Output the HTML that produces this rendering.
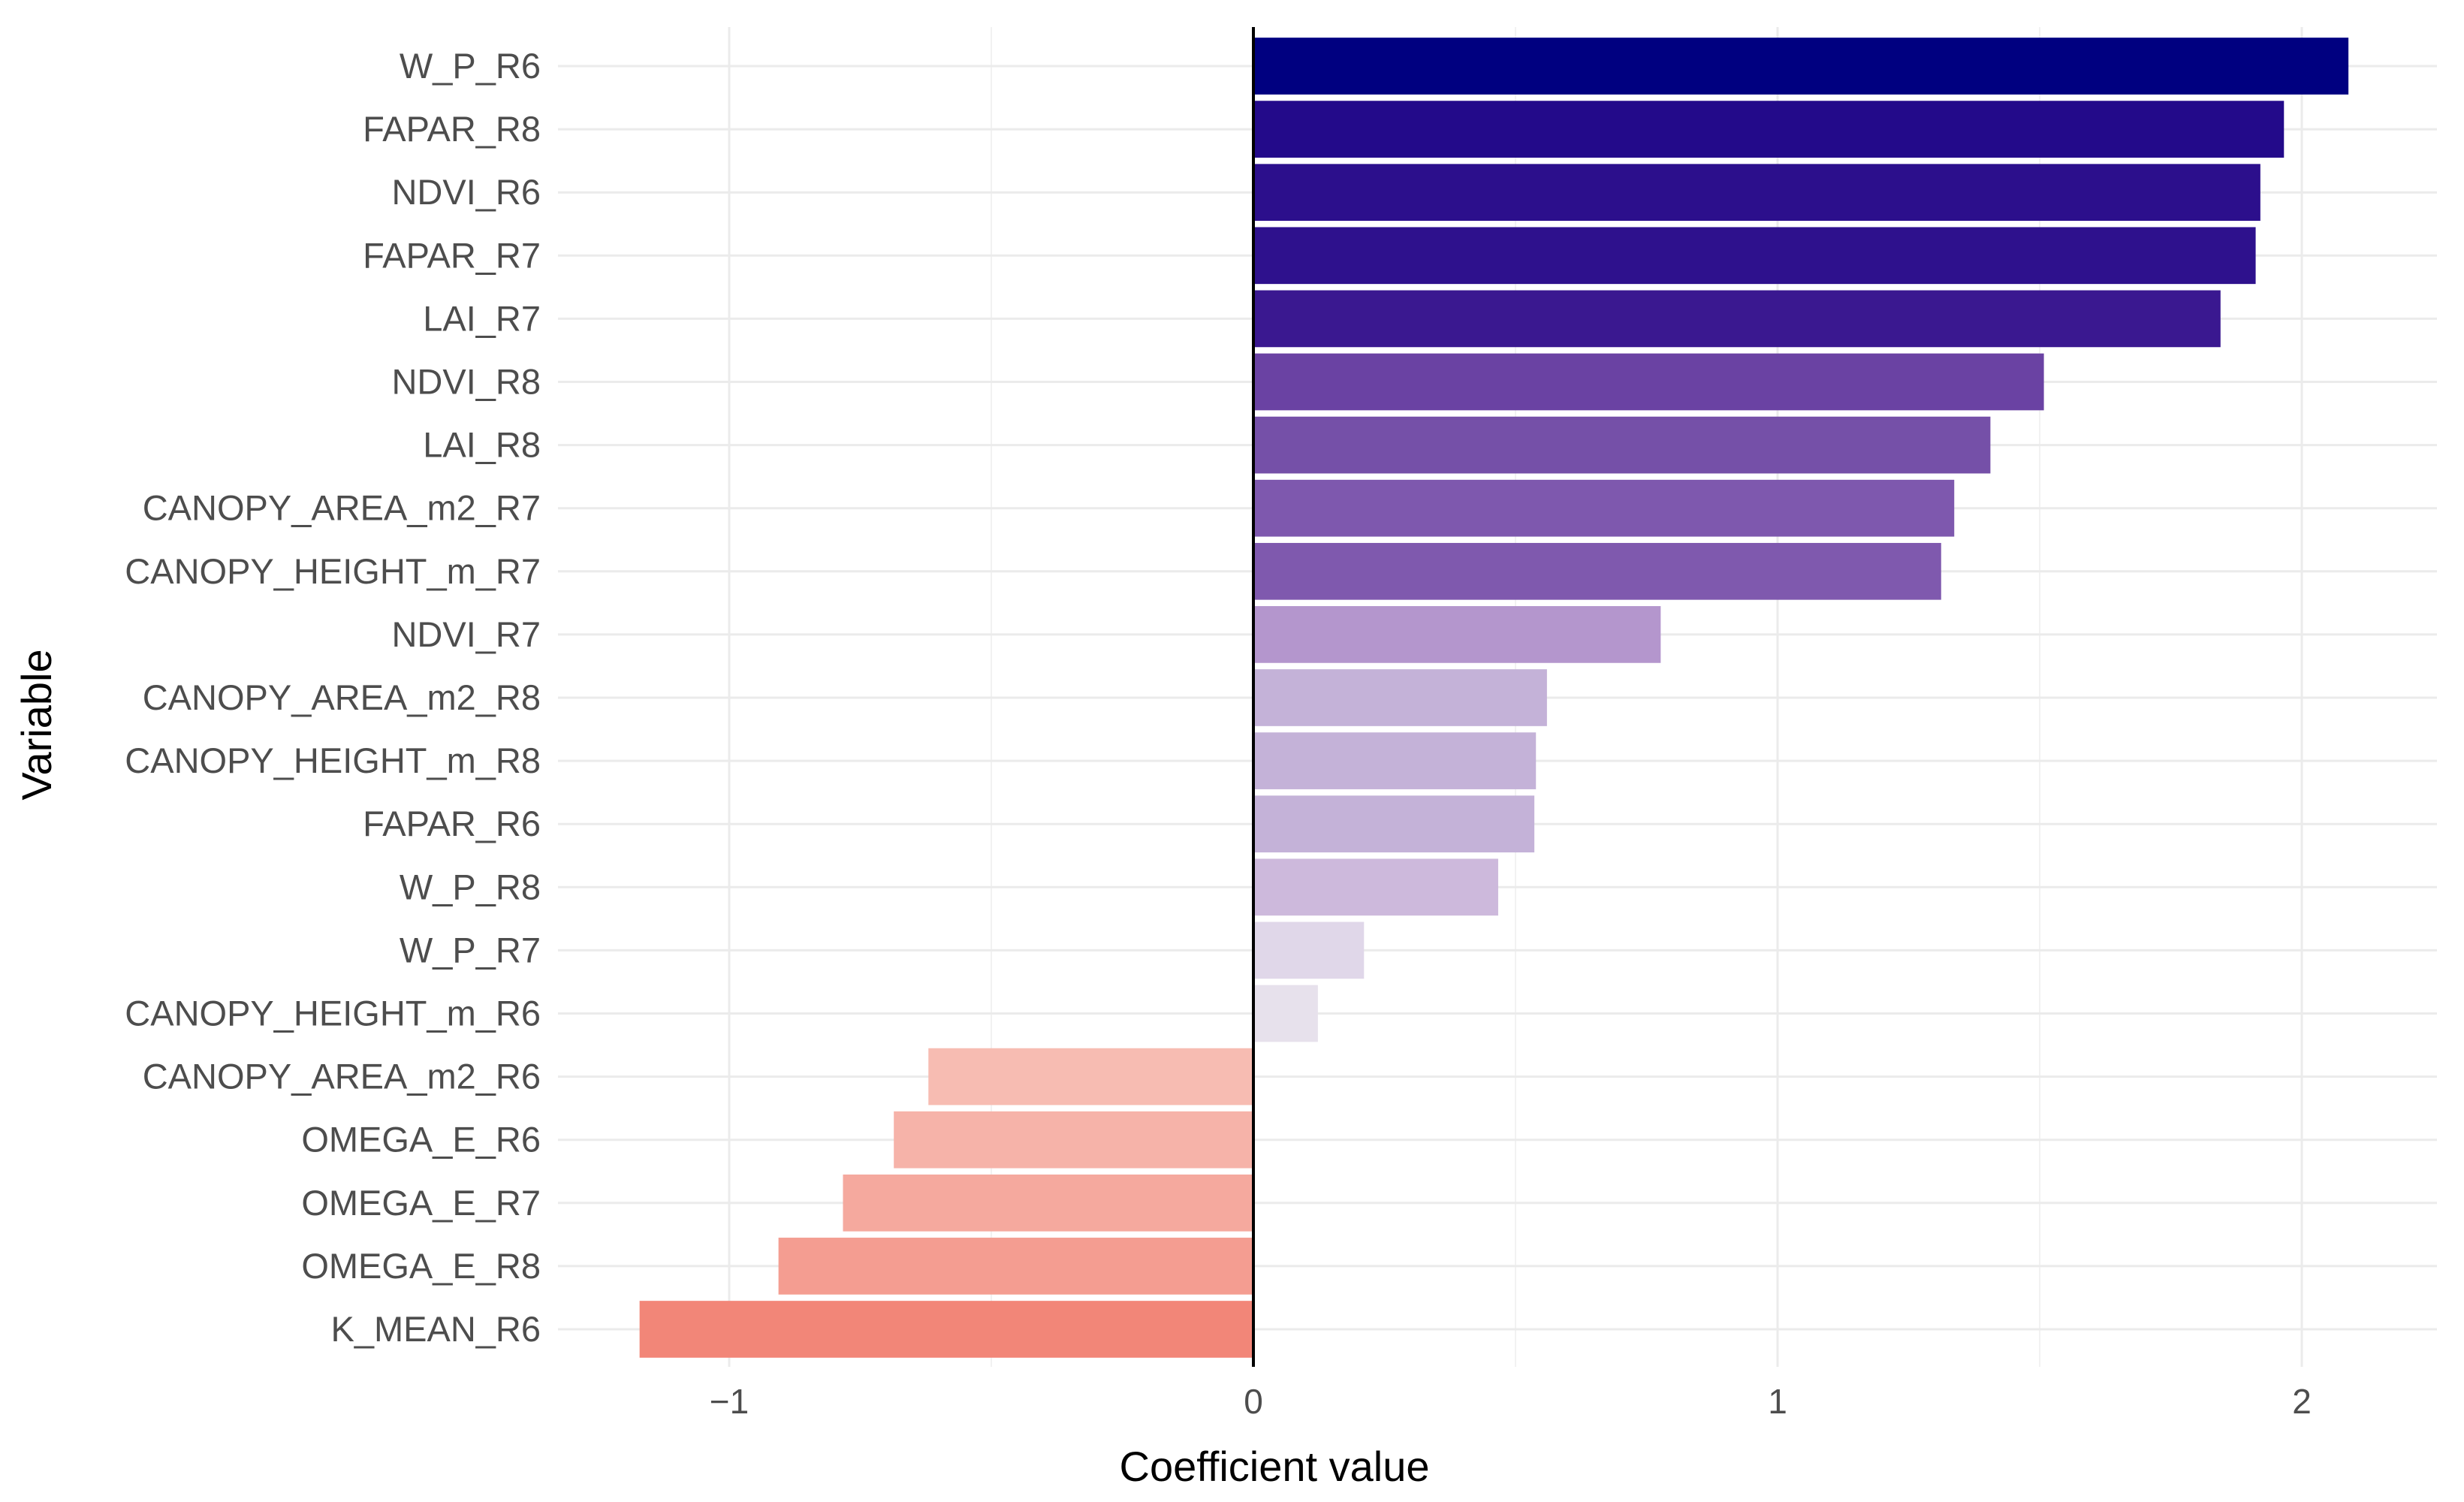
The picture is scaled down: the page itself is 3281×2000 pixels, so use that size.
<!DOCTYPE html>
<html><head><meta charset="utf-8"><style>body{margin:0;background:#fff}svg{display:block}</style></head>
<body>
<svg id="chart" width="3281" height="2000" xmlns="http://www.w3.org/2000/svg" font-family="Liberation Sans, sans-serif">
<g id="grid"></g>
<g id="bars"></g>
<g id="ylabels"></g>
<g id="xlabels"></g>
<text x="1697" y="1972" font-size="56" text-anchor="middle" fill="#000">Coefficient value</text>
<text transform="translate(68,965) rotate(-90)" font-size="56" text-anchor="middle" fill="#000">Variable</text>
</svg>
<script>
const categories = ["W_P_R6","FAPAR_R8","NDVI_R6","FAPAR_R7","LAI_R7","NDVI_R8","LAI_R8","CANOPY_AREA_m2_R7","CANOPY_HEIGHT_m_R7","NDVI_R7","CANOPY_AREA_m2_R8","CANOPY_HEIGHT_m_R8","FAPAR_R6","W_P_R8","W_P_R7","CANOPY_HEIGHT_m_R6","CANOPY_AREA_m2_R6","OMEGA_E_R6","OMEGA_E_R7","OMEGA_E_R8","K_MEAN_R6"];
const values = [2.089,1.966,1.921,1.912,1.845,1.508,1.406,1.337,1.312,0.777,0.560,0.539,0.536,0.467,0.211,0.123,-0.620,-0.686,-0.783,-0.906,-1.171];
const colors = ["#000080","#230a8a","#2c0f8c","#2e118d","#3a1890","#6a42a3","#7550a8","#7e58ae","#7f59ae","#b496cd","#c4b2d8","#c4b2d8","#c4b2d8","#cdb9dc","#e0d7e9","#e7e1ec","#f7bcb2","#f6b3a9","#f5a99e","#f49d91","#f28678"];
const xTicks = [-1,0,1,2];
const xTickLabels = ["\u22121","0","1","2"];
const xMinor = [-0.5,0.5,1.5];

(function(){
const NS="http://www.w3.org/2000/svg";
const pLeft=743,pRight=3245,pTop=36,pBottom=1820;
const x0=1669,unit=698;
const xs=v=>x0+v*unit;
const rowStep=84.1,row0=88;
const ys=i=>row0+i*rowStep;
const bh=rowStep*0.9;
function mk(tag,attrs,parent){const e=document.createElementNS(NS,tag);for(const k in attrs)e.setAttribute(k,attrs[k]);parent.appendChild(e);return e;}
const grid=document.getElementById('grid'),bars=document.getElementById('bars'),yl=document.getElementById('ylabels'),xl=document.getElementById('xlabels');
xMinor.forEach(v=>{const l=mk('line',{x1:xs(v),x2:xs(v),y1:pTop,y2:pBottom,stroke:'#f2f2f2','stroke-width':2},grid);

});
xTicks.forEach((v,i)=>{const l=mk('line',{x1:xs(v),x2:xs(v),y1:pTop,y2:pBottom,stroke:'#ebebeb','stroke-width':3},grid);


const t=mk('text',{x:xs(v),y:1882,'font-size':46,'text-anchor':'middle',fill:'#4d4d4d'},xl);t.textContent=xTickLabels[i];

});
categories.forEach((c,i)=>{const l=mk('line',{x1:pLeft,x2:pRight,y1:ys(i),y2:ys(i),stroke:'#ebebeb','stroke-width':3},grid);


const v=values[i];
const r=mk('rect',{x:Math.min(xs(0),xs(v)),y:ys(i)-bh/2,width:Math.abs(xs(v)-xs(0)),height:bh,fill:colors[i]},bars);


const t=mk('text',{x:720,y:ys(i)+16,'font-size':47,'text-anchor':'end',fill:'#4d4d4d'},yl);t.textContent=c;

});
const z=mk('line',{x1:xs(0),x2:xs(0),y1:pTop,y2:pBottom,stroke:'#000','stroke-width':4},bars);


})();
</script>
</body></html>
